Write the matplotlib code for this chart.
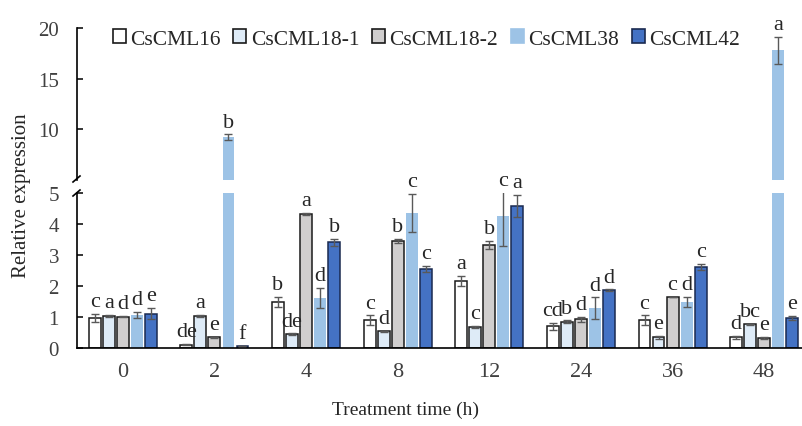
import numpy as np
import matplotlib
matplotlib.use("Agg")
import matplotlib.pyplot as plt
from matplotlib.lines import Line2D
from matplotlib.patches import Patch

plt.rcParams['font.family'] = ['Liberation Serif', 'DejaVu Serif']

times = ['0', '2', '4', '8', '12', '24', '36', '48']
genes = ['CsCML16', 'CsCML18-1', 'CsCML18-2', 'CsCML38', 'CsCML42']

cml16 = [0.97, 0.11, 1.49, 0.90, 2.16, 0.70, 0.90, 0.34]
cml16_err = [0.13, 0.02, 0.17, 0.15, 0.16, 0.12, 0.15, 0.04]
cml16_sig = ['c', 'de', 'b', 'c', 'a', 'cd', 'c', 'd']

cml18_1 = [1.03, 1.04, 0.45, 0.54, 0.69, 0.85, 0.34, 0.77]
cml18_1_err = [0.03, 0.03, 0.02, 0.02, 0.03, 0.04, 0.05, 0.02]
cml18_1_sig = ['a', 'a', 'de', 'd', 'c', 'b', 'e', 'bc']

cml18_2 = [1.01, 0.35, 4.32, 3.46, 3.32, 0.93, 1.65, 0.32]
cml18_2_err = [0.02, 0.02, 0.04, 0.06, 0.13, 0.08, 0.01, 0.03]
cml18_2_sig = ['d', 'e', 'a', 'b', 'b', 'd', 'c', 'e']

cml38 = [1.07, 9.2, 1.61, 4.35, 4.25, 1.29, 1.49, 17.8]
cml38_err = [0.10, 0.3, 0.32, 0.62, 0.95, 0.34, 0.16, 1.35]
cml38_sig = ['d', 'b', 'd', 'c', 'c', 'd', 'd', 'a']

cml42 = [1.11, 0.07, 3.41, 2.55, 4.57, 1.87, 2.62, 0.96]
cml42_err = [0.18, 0.01, 0.12, 0.10, 0.36, 0.02, 0.10, 0.07]
cml42_sig = ['e', 'f', 'b', 'c', 'a', 'd', 'c', 'e']

values = [cml16, cml18_1, cml18_2, cml38, cml42]
errors = [cml16_err, cml18_1_err, cml18_2_err, cml38_err, cml42_err]
letters = [cml16_sig, cml18_1_sig, cml18_2_sig, cml38_sig, cml42_sig]

faces = ['white', '#deebf7', '#d0cece', '#9dc3e6', '#4472c4']
edges = ['#1a1a1a', '#1a1a1a', '#1a1a1a', 'none', '#1a2a50']

W, H = 803, 427
fig = plt.figure(figsize=(W / 100, H / 100), dpi=100)
left = 77 / W
width = (810 - 77) / W
ax_bot = fig.add_axes([left, (H - 349) / H, width, (349 - 194) / H])
ax_top = fig.add_axes([left, (H - 181) / H, width, (181 - 29) / H])
ax_top.patch.set_visible(False)
ax_bot.patch.set_visible(False)

x = np.arange(len(times))
step = 0.153
bw = 0.13
break_at = 5

for ax in (ax_bot, ax_top):
    for k in range(len(genes)):
        xs = x + (k - 2) * step
        ax.bar(xs, values[k], width=bw, color=faces[k], edgecolor=edges[k],
               linewidth=1.1 if edges[k] != 'none' else 0, zorder=2)
    ax.set_xlim(-0.5, 7.5)
    ax.spines['top'].set_visible(False)
    ax.spines['right'].set_visible(False)
    ax.spines['left'].set_linewidth(1.2)
    ax.tick_params(axis='y', direction='in', length=4, width=1.1, pad=13,
                   labelsize=15, labelcolor='#404040')

# error bars and letters
for k in range(len(genes)):
    xs = x + (k - 2) * step
    v = np.array(values[k])
    e = np.array(errors[k])
    low = v < break_at
    ax_bot.errorbar(xs, v, yerr=e, fmt='none', ecolor='#595959', elinewidth=1,
                    capsize=3, capthick=1, zorder=3)
    if (~low).any():
        ax_top.errorbar(xs[~low], v[~low], yerr=e[~low], fmt='none',
                        ecolor='#595959', elinewidth=1, capsize=3, capthick=1,
                        zorder=3)
    for i in range(len(times)):
        if low[i]:
            ax, y = ax_bot, min(v[i] + e[i], break_at)
        else:
            ax, y = ax_top, v[i] + e[i]
        ax.annotate(letters[k][i], (xs[i], y), xytext=(0, 2),
                    textcoords='offset points', ha='center', va='bottom',
                    fontsize=16, color='#262626', annotation_clip=False,
                    zorder=5)

ax_bot.set_ylim(0, 5)
ax_bot.set_yticks([0, 1, 2, 3, 4, 5])
ax_bot.spines['bottom'].set_linewidth(1.2)
ax_bot.set_xticks(x)
ax_bot.set_xticklabels(times)
ax_bot.tick_params(axis='x', length=0, pad=10, labelsize=16, labelcolor='#404040')

ax_top.set_ylim(5, 20)
ax_top.set_yticks([10, 15, 20])
ax_top.spines['bottom'].set_visible(False)
ax_top.set_xticks([])

# break marks on the y axis
def slash(px, py):
    fig.add_artist(Line2D([(px - 4) / W, (px + 3) / W],
                          [(H - py - 3) / H, (H - py + 3) / H],
                          color='black', lw=1.2))

slash(77, 180)
slash(77, 194)

fig.text(22 / W, (H - 196) / H, 'Relative expression', rotation=90,
         ha='center', va='center', fontsize=15, color='#262626')
fig.text(406 / W, (H - 410) / H, 'Treatment time (h)', ha='center',
         va='center', fontsize=14, color='#262626')

handles = [Patch(facecolor=faces[k], edgecolor=edges[k] if edges[k] != 'none' else faces[k],
                 linewidth=1.2) for k in range(len(genes))]
fig.legend(handles, genes, loc='center left', bbox_to_anchor=(102 / W, (H - 40) / H),
           ncol=5, frameon=False, fontsize=15.5, handlelength=0.6, handleheight=0.6,
           handletextpad=0.2, columnspacing=0.6, borderpad=0, labelcolor='#262626')

fig.savefig('out.png', dpi=100)
